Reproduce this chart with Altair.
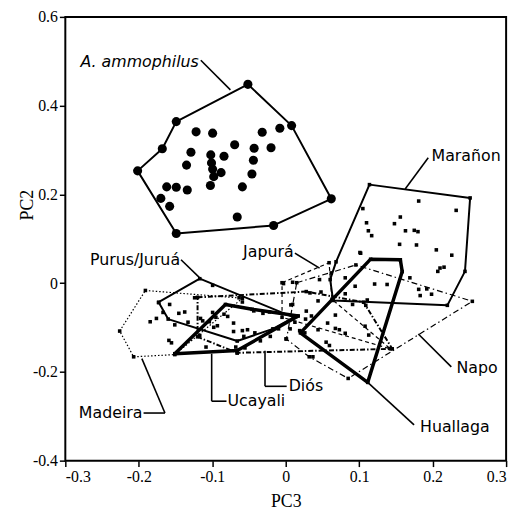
import altair as alt
import pandas as pd

# ---------------- values (PC3 = x, PC2 = y) ----------------
# A. ammophilus: hull vertices (drawing order) and interior specimens
AMM_HULL_X = [-0.0515, 0.008, 0.062, -0.0165, -0.149, -0.2016, -0.168, -0.149]
AMM_HULL_Y = [0.448, 0.355, 0.190, 0.130, 0.112, 0.253, 0.303, 0.364]
AMM_PTS_X = [-0.122, -0.0995, -0.032, -0.008, -0.0695, -0.129, -0.102, -0.084, -0.043, -0.020,
             -0.135, -0.101, -0.0995, -0.044, -0.088, -0.098, -0.046, -0.1025, -0.059, -0.162,
             -0.149, -0.134, -0.170, -0.158, -0.066]
AMM_PTS_Y = [0.341, 0.338, 0.340, 0.349, 0.312, 0.295, 0.289, 0.286, 0.304, 0.305,
             0.266, 0.271, 0.257, 0.277, 0.249, 0.240, 0.246, 0.220, 0.217, 0.217,
             0.216, 0.210, 0.191, 0.173, 0.149]

# Marañon
MAR_HULL_X = [0.114, 0.251, 0.244, 0.220, 0.0645, 0.0605, 0.0685]
MAR_HULL_Y = [0.222, 0.192, 0.0265, -0.050, -0.039, 0.008, 0.048]
MAR_PTS_X = [0.181, 0.232, 0.105, 0.156, 0.110, 0.148, 0.163, 0.175, 0.180, 0.1125, 0.117, 0.155, 0.178,
             0.205, 0.226, 0.101, 0.210, 0.2155, 0.207, 0.181, 0.192, 0.183, 0.1985, 0.121, 0.138, 0.169]
MAR_PTS_Y = [0.185, 0.164, 0.168, 0.149, 0.136, 0.134, 0.118, 0.119, 0.116, 0.118, 0.107, 0.0875, 0.086,
             0.075, 0.063, 0.069, 0.034, 0.036, 0.0265, -0.014, -0.013, -0.028, -0.025, -0.002, -0.003, 0.012]

# Huallaga
HUA_HULL_X = [0.1156, 0.156, 0.1586, 0.1116, 0.020]
HUA_HULL_Y = [0.054, 0.0526, 0.026, -0.2236, -0.112]
HUA_PTS_X = [0.081, 0.091, 0.109, 0.0676, 0.057, 0.0676, 0.073, 0.081, 0.108, 0.113, 0.111, 0.0945]
HUA_PTS_Y = [-0.024, -0.048, -0.050, -0.072, -0.090, -0.102, -0.105, -0.113, -0.097, -0.117, -0.038, -0.007]

# Japurá
JAP_HULL_X = [-0.005, 0.059, 0.063, 0.1425, -0.005]
JAP_HULL_Y = [0.001, 0.046, -0.0365, -0.148, -0.077]
JAP_PTS_X = [0.102, 0.046, 0.062, 0.081, 0.048, 0.033, 0.044, 0.0094, 0.028, 0.035]
JAP_PTS_Y = [0.0675, 0.008, 0.023, 0.012, -0.020, -0.022, -0.040, -0.048, -0.063, -0.074]

# Napo
NAP_HULL_X = [0.015, 0.0955, 0.254, 0.085, 0.032, 0.001]
NAP_HULL_Y = [0.001, 0.041, -0.041, -0.2147, -0.166, -0.126]
NAP_PTS_X = [0.014, 0.027, 0.006, 0.044, 0.055, 0.0595, 0.037]
NAP_PTS_Y = [-0.075, -0.081, -0.103, -0.105, -0.133, -0.1405, -0.166]

# Diós
DIO_HULL_X = [-0.120, 0.028, 0.106, 0.145, -0.066, -0.120]
DIO_HULL_Y = [-0.032, -0.019, -0.043, -0.148, -0.157, -0.121]
DIO_PTS_X = [-0.003, 0.0094, 0.007, -0.0098, 0.0004, 0.0125, 0.019, 0.026, -0.0345, -0.021, -0.066, -0.0555, -0.068]
DIO_PTS_Y = [-0.001, 0.002, -0.049, -0.103, -0.1256, -0.088, -0.107, -0.112, -0.130, -0.120, -0.1575, -0.146, -0.144]

# Ucayali
UCA_HULL_X = [-0.151, -0.082, -0.0457, 0.017, -0.066]
UCA_HULL_Y = [-0.159, -0.048, -0.059, -0.074, -0.152]
UCA_PTS_X = [-0.071, -0.071, -0.059, -0.052, -0.057, -0.042, -0.098, -0.093, -0.117, -0.1085, -0.084, -0.079,
             -0.0435, -0.031, -0.022]
UCA_PTS_Y = [-0.090, -0.109, -0.107, -0.105, -0.120, -0.112, -0.0995, -0.096, -0.118, -0.144, -0.070, -0.075,
             -0.0625, -0.068, -0.065]

# Purus/Juruá
PUR_HULL_X = [-0.117, 0.011, -0.0175, -0.066, -0.160, -0.173]
PUR_HULL_Y = [0.010, -0.077, -0.103, -0.1305, -0.081, -0.043]
PUR_PTS_X = [-0.0995, -0.059, -0.1455, -0.1375, -0.133, -0.151, -0.116, -0.113, -0.0995, -0.104, -0.095, -0.124, -0.0635]
PUR_PTS_Y = [-0.005, -0.0425, -0.068, -0.065, -0.088, -0.094, -0.0795, -0.085, -0.066, -0.087, -0.077, -0.033, -0.033]

# Madeira
MAD_HULL_X = [-0.191, -0.059, -0.151, -0.207, -0.226]
MAD_HULL_Y = [-0.0165, -0.034, -0.161, -0.166, -0.108]
MAD_PTS_X = [-0.158, -0.167, -0.176, -0.1845, -0.159, -0.1555, -0.173]
MAD_PTS_Y = [-0.048, -0.066, -0.0795, -0.087, -0.129, -0.1345, -0.044]

# Labels and leader lines
LABELS = ["A.  ammophilus", "Marañon", "Japurá", "Purus/Juruá", "Madeira", "Ucayali", "Diós", "Huallaga", "Napo"]
LABEL_X = [-0.1183, 0.1985, 0.0108, -0.1438, -0.1950, -0.0793, 0.004, 0.1828, 0.2325]
LABEL_Y = [0.498, 0.2864, 0.0704, 0.0526, -0.2927, -0.266, -0.2325, -0.3238, -0.1924]
LABEL_ALIGN = ["right", "left", "right", "right", "right", "left", "left", "left", "left"]

CONN_X1 = [-0.1156, 0.194, 0.0125, -0.1425, -0.1935, -0.1644, -0.0806, -0.1008, 0.0013, -0.0282, 0.1747, 0.2254]
CONN_Y1 = [0.5024, 0.2826, 0.0675, 0.0526, -0.2927, -0.2927, -0.266, -0.266, -0.2325, -0.2325, -0.3194, -0.1886]
CONN_X2 = [-0.0753, 0.1626, 0.0461, -0.1156, -0.1644, -0.1958, -0.1008, -0.1008, -0.0282, -0.0282, 0.1116, 0.1805]
CONN_Y2 = [0.4356, 0.2122, 0.034, 0.0096, -0.2927, -0.1702, -0.266, -0.159, -0.2325, -0.1523, -0.2236, -0.1145]

X_TICKS = [-0.3, -0.2, -0.1, 0, 0.1, 0.2, 0.3]
Y_TICKS = [-0.4, -0.2, 0, 0.2, 0.4, 0.6]

# ---------------- styles ----------------
GROUPS = [
    # name, hull x, hull y, pts x, pts y, stroke width, dash
    ("ammophilus", AMM_HULL_X, AMM_HULL_Y, AMM_PTS_X, AMM_PTS_Y, 2.0, None),
    ("Maranon", MAR_HULL_X, MAR_HULL_Y, MAR_PTS_X, MAR_PTS_Y, 2.0, None),
    ("Huallaga", HUA_HULL_X, HUA_HULL_Y, HUA_PTS_X, HUA_PTS_Y, 3.5, None),
    ("Japura", JAP_HULL_X, JAP_HULL_Y, JAP_PTS_X, JAP_PTS_Y, 1.2, [4, 3]),
    ("Napo", NAP_HULL_X, NAP_HULL_Y, NAP_PTS_X, NAP_PTS_Y, 1.2, [6, 3, 1.5, 3]),
    ("Dios", DIO_HULL_X, DIO_HULL_Y, DIO_PTS_X, DIO_PTS_Y, 2.0, [5, 2, 1.5, 2]),
    ("Ucayali", UCA_HULL_X, UCA_HULL_Y, UCA_PTS_X, UCA_PTS_Y, 3.5, None),
    ("Purus", PUR_HULL_X, PUR_HULL_Y, PUR_PTS_X, PUR_PTS_Y, 2.0, None),
    ("Madeira", MAD_HULL_X, MAD_HULL_Y, MAD_PTS_X, MAD_PTS_Y, 1.2, [1.5, 2]),
]

XS = alt.Scale(domain=[-0.3, 0.3], nice=False, zero=False)
YS = alt.Scale(domain=[-0.4, 0.6], nice=False, zero=False)
LBL = "datum.value == 0 ? '0' : toString(round(datum.value * 10) / 10)"
XAX = alt.Axis(values=X_TICKS, title="PC3", labelExpr=LBL, titleY=32)
YAX = alt.Axis(values=Y_TICKS, title="PC2", labelExpr=LBL, titleAngle=270,
               titleX=-38, titleY=190, titleBaseline="middle", titleAlign="center")

def xe(field="x"):
    return alt.X(f"{field}:Q", scale=XS, axis=XAX)

def ye(field="y"):
    return alt.Y(f"{field}:Q", scale=YS, axis=YAX)

layers = []
for name, hx, hy, px, py, sw, dash in GROUPS:
    n = len(hx)
    hdf = pd.DataFrame({"x": list(hx) + [hx[0]], "y": list(hy) + [hy[0]], "i": list(range(n + 1))})
    kw = dict(color="black", strokeWidth=sw, strokeJoin="round", clip=True)
    if dash:
        kw["strokeDash"] = dash
    layers.append(alt.Chart(hdf).mark_line(**kw).encode(x=xe(), y=ye(), order="i:Q"))

# points
for name, hx, hy, px, py, sw, dash in GROUPS:
    pdf = pd.DataFrame({"x": list(hx) + list(px), "y": list(hy) + list(py)})
    if name == "ammophilus":
        m = alt.Chart(pdf).mark_point(shape="circle", filled=True, color="black", size=85, opacity=1)
    else:
        m = alt.Chart(pdf).mark_point(shape="square", filled=True, color="black", size=13, opacity=1)
    layers.append(m.encode(x=xe(), y=ye()))

cdf = pd.DataFrame({"x": CONN_X1, "y": CONN_Y1, "x2": CONN_X2, "y2": CONN_Y2})
layers.append(alt.Chart(cdf).mark_rule(color="black", strokeWidth=1.6).encode(
    x=xe(), y=ye(), x2="x2:Q", y2="y2:Q"))

ldf = pd.DataFrame({"t": LABELS, "x": LABEL_X, "y": LABEL_Y, "a": LABEL_ALIGN,
                    "it": ["italic"] + ["normal"] * (len(LABELS) - 1)})
for al in ["left", "right"]:
    for st in ["italic", "normal"]:
        sub = ldf[(ldf.a == al) & (ldf.it == st)]
        if len(sub) == 0:
            continue
        layers.append(alt.Chart(sub).mark_text(
            align=al, baseline="middle", font="DejaVu Sans", fontSize=16,
            fontStyle=st, color="black").encode(x=xe(), y=ye(), text="t:N"))

chart = alt.layer(*layers).properties(
    width=446, height=449,
    autosize="none",
    padding={"left": 58, "top": 6, "right": 10, "bottom": 52},
).configure_view(stroke="black", strokeWidth=2).configure_axis(
    grid=False, domain=False, tickColor="black", tickWidth=1.5, tickSize=6,
    labelFont="Liberation Serif", labelFontSize=16, labelColor="black", labelPadding=2,
    titleFont="Liberation Serif", titleFontSize=18, titleFontWeight="normal", titleColor="black",
)

chart.save("out.html", embed_options={"renderer": "svg", "actions": False})
